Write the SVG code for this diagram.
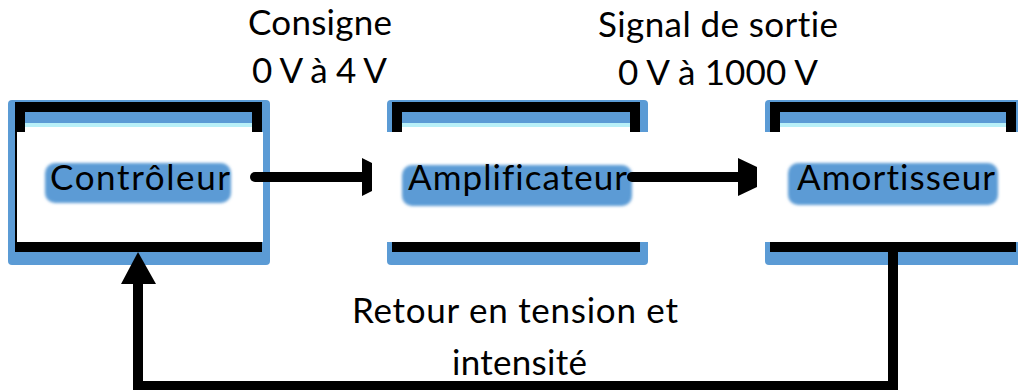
<svg xmlns="http://www.w3.org/2000/svg" width="1018" height="390" viewBox="0 0 1018 390">
<defs>
<filter id="soft" x="-10%" y="-30%" width="120%" height="160%"><feGaussianBlur stdDeviation="1.6"/></filter>
</defs>
<style>
.outer{fill:#5b9bd5}
.frame{fill:none;stroke:#000;stroke-width:10}
.inner{fill:#5b9bd5}
.edge{fill:#b8f0f8}
.white{fill:#fff}
.hl{fill:#5b9bd5;filter:url(#soft)}
.t{font-family:Lato,"Liberation Sans",sans-serif;font-size:35px;fill:#000;text-anchor:middle;font-variant-ligatures:none}
.lbl{font-family:Lato,"Liberation Sans",sans-serif;font-size:35px;fill:#000;text-anchor:middle;font-variant-ligatures:none}
.wire{fill:none;stroke:#000;stroke-width:10}
.head{fill:#000}
</style>
<rect width="1018" height="390" fill="#fff"/>
<g id="controleur">
<rect class="outer" x="8" y="100" width="262" height="165" rx="4"/>
<rect class="inner" x="20" y="107" width="237" height="140"/>
<rect class="edge" x="25" y="123" width="227" height="4"/>
<rect class="white" x="25" y="127" width="227" height="115"/>
<rect class="frame" x="20" y="107" width="237" height="140"/>
<rect class="white" x="17" y="132" width="246" height="110"/>
<rect class="hl" x="45" y="163" width="186" height="40" rx="10"/>
<text class="lbl" x="140" y="190" textLength="180">Contrôleur</text>
</g>
<g id="amplificateur">
<rect class="outer" x="387" y="100" width="261" height="165" rx="4"/>
<rect class="inner" x="397" y="107" width="238" height="140"/>
<rect class="edge" x="402" y="123" width="228" height="4"/>
<rect class="white" x="402" y="127" width="228" height="115"/>
<rect class="frame" x="397" y="107" width="238" height="140"/>
<rect class="white" x="372" y="132" width="278" height="110"/>
<rect class="hl" x="402" y="165" width="230" height="41" rx="10"/>
<text class="lbl" x="517.5" y="190" textLength="219">Amplificateur</text>
</g>
<g id="amortisseur">
<rect class="outer" x="765" y="100" width="260" height="165" rx="4"/>
<rect class="inner" x="775" y="107" width="236" height="140"/>
<rect class="edge" x="780" y="123" width="226" height="4"/>
<rect class="white" x="780" y="127" width="226" height="115"/>
<rect class="frame" x="775" y="107" width="236" height="140"/>
<rect class="white" x="758" y="132" width="260" height="110"/>
<rect class="hl" x="788" y="163" width="210" height="42" rx="10"/>
<text class="lbl" x="896" y="190" textLength="198">Amortisseur</text>
</g>
<g id="connectors">
<line class="wire" x1="255" y1="177" x2="363" y2="177" stroke-linecap="round"/>
<polygon class="head" points="362,158 372,163 372,191 362,196"/>
<line class="wire" x1="632" y1="177" x2="739" y2="177" stroke-linecap="round"/>
<polygon class="head" points="738,158 757,167 757,187 738,196"/>
<path class="wire" d="M893 246 V386 H138 V282"/>
<polygon class="head" points="121,284 138,252 156,284"/>
</g>
<g id="labels">
<text class="t" x="320" y="35" textLength="144">Consigne</text>
<text class="t" x="319.5" y="83" textLength="135">0 V à 4 V</text>
<text class="t" x="718" y="37" textLength="240">Signal de sortie</text>
<text class="t" x="718" y="85" textLength="200">0 V à 1000 V</text>
<text class="t" x="515" y="323" textLength="326">Retour en tension et</text>
<text class="t" x="519.5" y="375" textLength="135">intensité</text>
</g>
</svg>
